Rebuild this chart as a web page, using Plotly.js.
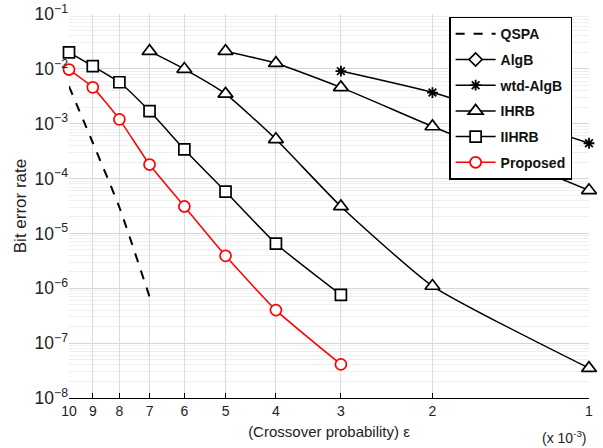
<!DOCTYPE html>
<html>
<head>
<meta charset="utf-8">
<script src="https://cdn.plot.ly/plotly-3.0.1.min.js"></script>
<style>html,body{margin:0;padding:0;background:#fff;}#chart{width:603px;height:448px;}</style>
</head>
<body>
<div id="chart"></div>
<script>
// Crossover probability (x 10^-3)
const xTicks = [10, 9, 8, 7, 6, 5, 4, 3, 2, 1];
const xTickLabels = ["10", "9", "8", "7", "6", "5", "4", "3", "2", "1"];

const qspaX = [10, 9, 8, 7];
const qspaY = [4.8e-3, 4.5e-4, 3.0e-5, 7.0e-7];

// AlgB appears only in the legend (no visible points)
const algbX = [10];
const algbY = [null];

const wtdAlgbX = [3, 2, 1];
const wtdAlgbY = [9.1e-3, 3.7e-3, 4.4e-4];

const ihrbX = [7, 6, 5, 4, 3, 2, 1];
const ihrbY = [2.1e-2, 9.9e-3, 3.5e-3, 5.2e-4, 3.1e-5, 1.1e-6, 3.5e-8];

const ihrb2X = [5, 4, 3, 2, 1];
const ihrb2Y = [2.1e-2, 1.27e-2, 4.6e-3, 8.9e-4, 6.1e-5];

const iihrbX = [10, 9, 8, 7, 6, 5, 4, 3];
const iihrbY = [2.0e-2, 1.12e-2, 5.7e-3, 1.7e-3, 3.4e-4, 5.8e-5, 6.5e-6, 7.6e-7];

const propX = [10, 9, 8, 7, 6, 5, 4, 3];
const propY = [9.7e-3, 4.6e-3, 1.2e-3, 1.8e-4, 3.1e-5, 3.9e-6, 4.0e-7, 4.1e-8];

const black = '#000000';
const red = '#ff0000';

function series(name, x, y, color, symbol, size, extra) {
  return Object.assign({
    type: 'scatter', mode: 'lines+markers', name: name, x: x, y: y,
    line: {color: color, width: 1.5, shape: 'spline', smoothing: 0.5},
    marker: {symbol: symbol, size: size, color: '#ffffff', line: {color: color, width: 1.7}},
    legendgroup: name, cliponaxis: false
  }, extra || {});
}

const traces = [
  {type: 'scatter', mode: 'lines', name: 'QSPA', x: qspaX, y: qspaY,
   line: {color: black, width: 2, dash: 'dash', shape: 'spline', smoothing: 0.5}, legendgroup: 'QSPA'},
  series('AlgB', algbX, algbY, black, 'diamond', 10),
  series('wtd-AlgB', wtdAlgbX, wtdAlgbY, black, 'asterisk-open', 9,
    {marker: {symbol: 'asterisk-open', size: 9, color: black, line: {color: black, width: 1.8}}}),
  series('IHRB', ihrbX, ihrbY, black, 'triangle-up', 13),
  series('IHRB ', ihrb2X, ihrb2Y, black, 'triangle-up', 13, {showlegend: false, legendgroup: 'IHRB'}),
  series('IIHRB', iihrbX, iihrbY, black, 'square', 11),
  series('Proposed', propX, propY, red, 'circle', 11)
];

const layout = {
  width: 603, height: 448,
  margin: {l: 69, r: 14, t: 14, b: 50},
  paper_bgcolor: '#ffffff', plot_bgcolor: '#ffffff',
  font: {family: 'Liberation Sans, Arial, sans-serif', size: 14, color: '#222222'},
  showlegend: true,
  legend: {
    x: 0.731, y: 0.993, xanchor: 'left', yanchor: 'top',
    bgcolor: '#ffffff', bordercolor: '#000000', borderwidth: 1.5,
    font: {family: 'Liberation Sans, Arial, sans-serif', size: 14, color: '#111111', weight: 'bold'},
    traceorder: 'grouped', tracegroupgap: 4.5, itemwidth: 40
  },
  xaxis: {
    type: 'log', range: [1, 0],
    tickvals: xTicks, ticktext: xTickLabels,
    showgrid: true, gridcolor: '#dcdcdc', gridwidth: 1,
    showline: true, linecolor: '#000000', linewidth: 1,
    ticks: 'inside', ticklen: 5, tickcolor: '#000000', tickwidth: 1,
    zeroline: false,
    title: {text: '(Crossover probability) ε', font: {size: 15}, standoff: 8}
  },
  yaxis: {
    type: 'log', range: [-8, -1], dtick: 1, exponentformat: 'power',
    showgrid: true, gridcolor: '#d6d6d6', gridwidth: 1,
    minor: {dtick: 'D1', showgrid: true, gridcolor: '#efefef', ticks: ''},
    showline: false, ticks: '', zeroline: false,
    title: {text: 'Bit error rate', font: {size: 17}, standoff: 3}
  },
  annotations: [{
    xref: 'paper', yref: 'paper', x: 1, y: 0, xanchor: 'right', yanchor: 'middle',
    yshift: -39, showarrow: false, text: '(x 10<sup>-3</sup>)', font: {size: 14}
  }]
};

Plotly.newPlot('chart', traces, layout, {displayModeBar: false, staticPlot: true});
</script>
</body>
</html>
